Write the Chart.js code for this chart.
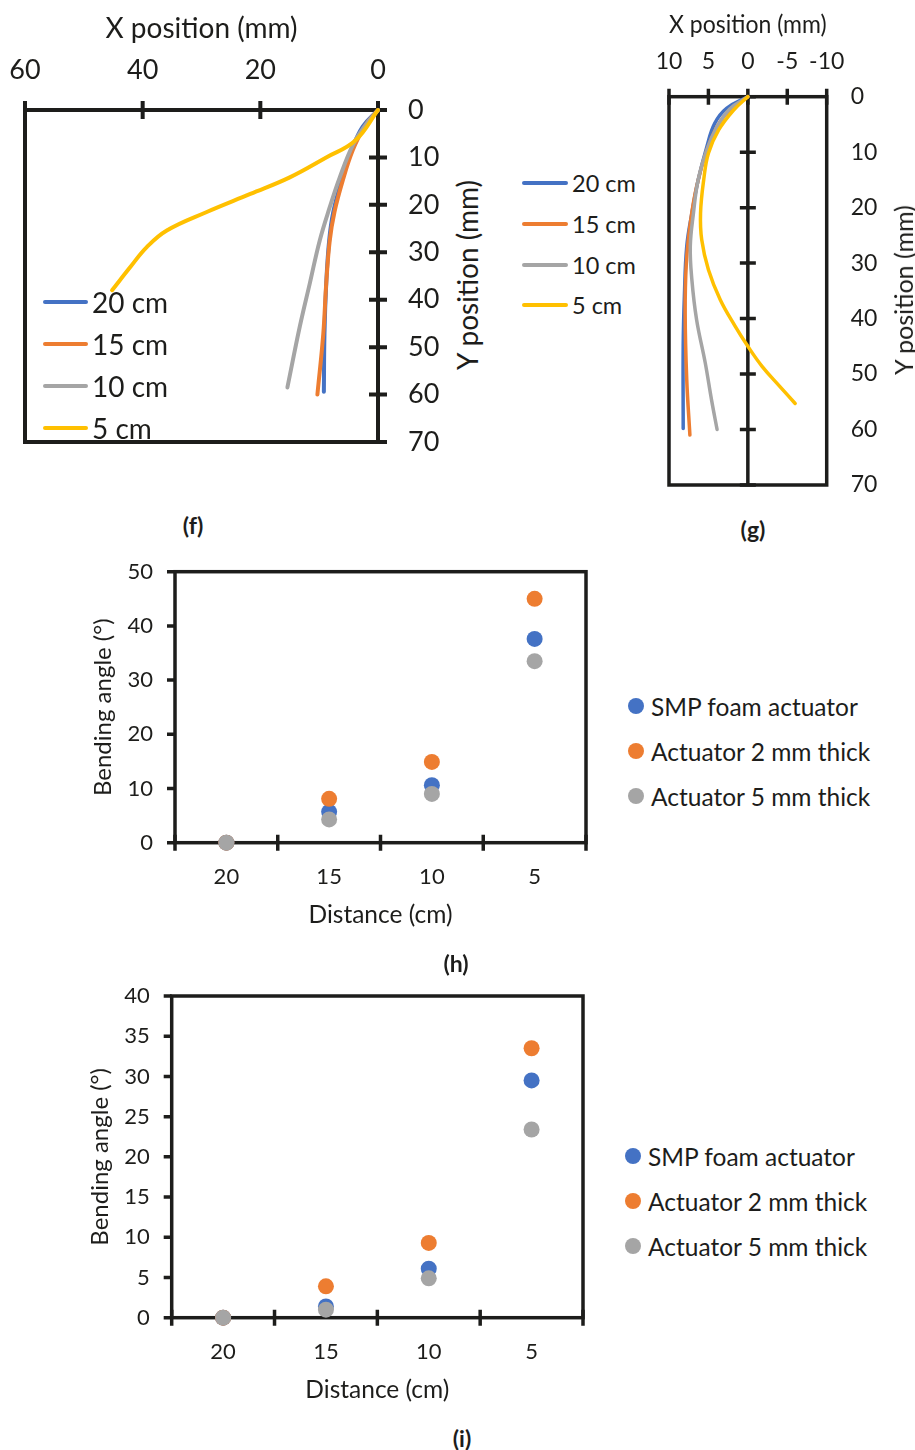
<!DOCTYPE html>
<html>
<head>
<meta charset="utf-8">
<script src="https://cdn.jsdelivr.net/npm/chart.js@4.4.1/dist/chart.umd.min.js"></script>
<style>
    body { margin: 0; background: #fff; }
    #page { position: relative; width: 915px; height: 1450px; font-family: Lato, "Open Sans", sans-serif; color: #1d1d1b; }
    canvas { position: absolute; }
    .vtitle { position: absolute; white-space: nowrap; transform: translate(-50%, -50%) rotate(-90deg); }
    .panel { position: absolute; font-weight: bold; font-size: 23px; transform: translate(-50%, -50%); }
    .legend-item { position: absolute; display: flex; align-items: center; white-space: nowrap; }
    .legend-item span.sw { display: inline-block; }
</style>
</head>
<body>
<div id="page">
    <canvas id="chartF" width="450" height="460" style="left:0;top:0"></canvas>
    <canvas id="chartG" width="275" height="500" style="left:640px;top:0"></canvas>
    <canvas id="chartH" width="520" height="390" style="left:80px;top:545px"></canvas>
    <canvas id="chartI" width="520" height="440" style="left:80px;top:970px"></canvas>

    <div class="vtitle" style="left:467px;top:275px;font-size:28px">Y position (mm)</div>
    <div class="vtitle" style="left:903px;top:290px;font-size:25px">Y position (mm)</div>

    <div class="panel" style="left:193px;top:525px">(f)</div>
    <div class="panel" style="left:753px;top:529px">(g)</div>
    <div class="panel" style="left:456px;top:963px">(h)</div>
    <div class="panel" style="left:462px;top:1438px">(i)</div>
</div>
<script>
// (f) tip path in mm, one x/y pair of arrays per distance
const fX20 = [0, 2.6, 4.5, 6.2, 7.6, 8.3, 8.8, 9.1, 9.2];
const fY20 = [0, 3.5, 8.5, 14.9, 21.5, 27.5, 36.6, 47.2, 59.4];
const fX15 = [0, 2.3, 4.3, 6.0, 7.4, 8.2, 8.8, 9.3, 10.3];
const fY15 = [0, 3.5, 8.5, 14.9, 21.5, 27.5, 36.6, 47.2, 60.0];
const fX10 = [0, 2.0, 4.2, 6.5, 8.2, 9.9, 11.6, 13.3, 15.4];
const fY10 = [0, 3.0, 7.2, 14.2, 20.5, 27.5, 36.6, 45.7, 58.5];
const fX5 = [0, 3.9, 8.8, 15.0, 21.7, 29.1, 35.9, 39.3, 42.1, 45.2];
const fY5 = [0, 6.5, 10.0, 14.2, 17.7, 21.5, 25.4, 28.9, 33.1, 38.0];

// (g)
const gX20 = [0, 2.7, 4.2, 5.2, 6.3, 7.1, 7.75, 8.05, 8.2, 8.2];
const gY20 = [0, 2.1, 4.8, 9.0, 15.0, 21.0, 27.0, 36.0, 45.0, 59.8];
const gX15 = [0, 2.5, 3.9, 5.2, 6.5, 7.3, 7.8, 7.95, 7.75, 7.35];
const gY15 = [0, 2.7, 5.4, 9.6, 16.2, 22.8, 30.0, 39.0, 51.0, 61.0];
const gX10 = [0, 2.3, 3.9, 5.2, 6.3, 6.9, 7.3, 7.1, 6.5, 5.4, 4.6, 3.9];
const gY10 = [0, 2.2, 5.4, 9.6, 15.0, 21.0, 27.0, 33.0, 40.2, 48.0, 54.7, 60.0];
const gX5 = [0, 1.8, 3.7, 5.0, 5.6, 6.0, 5.85, 5.0, 3.5, 1.6, 0, -1.8, -4.1, -6.0];
const gY5 = [0, 2.4, 6.0, 10.2, 15.0, 21.0, 25.8, 31.2, 36.6, 41.4, 45.0, 48.6, 52.3, 55.3];

// (h) and (i) bending angle in degrees
const distances = ['20', '15', '10', '5'];
const hSmp = [0, 5.7, 10.6, 37.6];
const h2mm = [0, 8.1, 14.9, 45.0];
const h5mm = [0, 4.3, 9.0, 33.5];
const iSmp = [0, 1.4, 6.1, 29.5];
const i2mm = [0, 3.9, 9.3, 33.5];
const i5mm = [0, 1.0, 4.9, 23.4];

const curveLabels = ['20 cm', '15 cm', '10 cm', '5 cm'];
const scatterLabels = ['SMP foam actuator', 'Actuator 2 mm thick', 'Actuator 5 mm thick'];
const seriesColors = ['#4472C4', '#ED7D31', '#A5A5A5', '#FFC000'];

const INK = '#1d1d1b';
Chart.defaults.font.family = 'Lato, "Open Sans", sans-serif';
Chart.defaults.color = INK;

function toPoints(xs, ys) {
    return xs.map((x, i) => ({ x: x, y: ys[i] }));
}

// fixed scale size, and no extra room for the end labels
function fixSize(prop, size) {
    return s => {
        s[prop] = size;
        s.paddingLeft = s.paddingRight = s.paddingTop = s.paddingBottom = 0;
    };
}

// frame box + Excel style tick marks, positions come from the scales
const marksPlugin = {
    id: 'marks',
    beforeDatasetsDraw(chart, args, opts) {
        const { ctx, chartArea: a } = chart;
        ctx.save();
        ctx.strokeStyle = INK;
        ctx.lineWidth = opts.width;
        ctx.strokeRect(a.left, a.top, a.right - a.left, a.bottom - a.top);
        opts.sets.forEach(set => {
            const s = chart.scales[set.axis];
            let pix;
            if (set.between) {
                const step = s.getPixelForValue(1) - s.getPixelForValue(0);
                pix = s.ticks.map((t, i) => s.getPixelForValue(i) - step / 2);
                pix.push(s.getPixelForValue(s.ticks.length - 1) + step / 2);
            } else {
                pix = s.ticks.map(t => s.getPixelForValue(t.value));
            }
            let base = set.base;
            if (typeof base === 'number') {
                base = chart.scales[set.axis === 'x' ? 'y' : 'x'].getPixelForValue(base);
            } else {
                base = a[base];
            }
            ctx.beginPath();
            if (set.line) {
                ctx.moveTo(base, a.top);
                ctx.lineTo(base, a.bottom);
            }
            pix.forEach(p => {
                if (s.isHorizontal()) {
                    ctx.moveTo(p, base - set.len[0]);
                    ctx.lineTo(p, base + set.len[1]);
                } else {
                    ctx.moveTo(base - set.len[0], p);
                    ctx.lineTo(base + set.len[1], p);
                }
            });
            ctx.stroke();
        });
        ctx.restore();
    }
};

function noGrid() {
    return { display: false, drawTicks: false };
}

function curveChart(id, xsList, ysList, cfg) {
    return new Chart(document.getElementById(id), {
        type: 'scatter',
        data: {
            datasets: curveLabels.map((label, i) => ({
                label: label,
                data: toPoints(xsList[i], ysList[i]),
                showLine: true,
                borderColor: seriesColors[i],
                backgroundColor: seriesColors[i],
                borderWidth: cfg.lineWidth,
                borderCapStyle: 'round',
                pointRadius: 0,
                tension: 0.4,
                clip: false,
                order: -i
            }))
        },
        options: {
            responsive: false,
            animation: false,
            events: [],
            layout: { padding: cfg.padding },
            plugins: {
                legend: { display: false },
                tooltip: { enabled: false },
                marks: cfg.marks
            },
            scales: {
                x: {
                    type: 'linear', position: 'top', reverse: true,
                    min: cfg.xMin, max: cfg.xMax,
                    ticks: { stepSize: cfg.xStep, padding: cfg.xPad, font: { size: cfg.tickSize }, maxRotation: 0, autoSkip: false },
                    grid: noGrid(), border: { display: false },
                    title: { display: true, text: 'X position (mm)', font: { size: cfg.titleSize }, padding: { top: cfg.titlePad, bottom: 0 } },
                    afterFit: fixSize('height', cfg.xHeight)
                },
                y: {
                    type: 'linear', position: 'right', reverse: true,
                    min: 0, max: 70,
                    ticks: { stepSize: 10, padding: cfg.yPad, font: { size: cfg.tickSize }, autoSkip: false },
                    grid: noGrid(), border: { display: false },
                    afterFit: fixSize('width', cfg.yWidth)
                }
            }
        },
        plugins: [marksPlugin]
    });
}

function angleChart(id, sets, cfg) {
    return new Chart(document.getElementById(id), {
        type: 'line',
        data: {
            labels: distances,
            datasets: scatterLabels.map((label, i) => ({
                label: label,
                data: sets[i],
                showLine: false,
                pointRadius: 8,
                pointHoverRadius: 8,
                pointBorderWidth: 0,
                pointBackgroundColor: seriesColors[i],
                backgroundColor: seriesColors[i],
                borderColor: seriesColors[i],
                clip: false,
                order: -i
            }))
        },
        options: {
            responsive: false,
            animation: false,
            events: [],
            layout: { padding: cfg.padding },
            plugins: {
                legend: { display: false },
                tooltip: { enabled: false },
                marks: {
                    width: 3.5,
                    sets: [
                        { axis: 'y', base: 'left', len: [8, 0] },
                        { axis: 'x', base: 'bottom', len: [8, 8], between: true }
                    ]
                }
            },
            scales: {
                x: {
                    type: 'category', offset: true,
                    ticks: { padding: 21, font: { size: 22 }, maxRotation: 0 },
                    grid: noGrid(), border: { display: false },
                    title: { display: true, text: 'Distance (cm)', font: { size: 24.5 }, padding: { top: 0, bottom: 5 } },
                    afterFit: fixSize('height', 92.3)
                },
                y: {
                    min: 0, max: cfg.yMax,
                    ticks: { stepSize: cfg.yStep, padding: 22, font: { size: 22 }, autoSkip: false },
                    grid: noGrid(), border: { display: false },
                    title: { display: true, text: 'Bending angle (°)', font: { size: 24 }, padding: { top: cfg.yTitlePad, bottom: 0 } },
                    afterFit: fixSize('width', cfg.yWidth)
                }
            }
        },
        plugins: [marksPlugin]
    });
}

// legends as html, built from the chart datasets
function htmlLegend(chart, x, ys, fontSize, swatch) {
    const page = document.getElementById('page');
    chart.data.datasets.forEach((ds, i) => {
        const item = document.createElement('div');
        item.className = 'legend-item';
        item.style.left = x + 'px';
        item.style.top = (ys[i] - 17) + 'px';
        item.style.height = '34px';
        item.style.fontSize = fontSize + 'px';
        const sw = document.createElement('span');
        sw.className = 'sw';
        sw.style.background = ds.borderColor;
        sw.style.width = swatch.w + 'px';
        sw.style.height = swatch.h + 'px';
        sw.style.marginRight = swatch.gap + 'px';
        sw.style.borderRadius = swatch.round ? '50%' : '2px';
        const txt = document.createElement('span');
        txt.textContent = ds.label;
        item.appendChild(sw);
        item.appendChild(txt);
        page.appendChild(item);
    });
}

document.addEventListener('DOMContentLoaded', () => {
    const chartF = curveChart('chartF', [fX20, fX15, fX10, fX5], [fY20, fY15, fY10, fY5], {
        lineWidth: 4, tickSize: 27, titleSize: 28,
        xMin: 0, xMax: 60, xStep: 20,
        xPad: 24, titlePad: 12, xHeight: 110,
        yPad: 30, yWidth: 72,
        padding: { left: 25, right: 0, top: 0, bottom: 18 },
        marks: {
            width: 4,
            sets: [
                { axis: 'x', base: 'top', len: [9, 9] },
                { axis: 'y', base: 'right', len: [9, 9] }
            ]
        }
    });

    const chartG = curveChart('chartG', [gX20, gX15, gX10, gX5], [gY20, gY15, gY10, gY5], {
        lineWidth: 3.5, tickSize: 23, titleSize: 25,
        xMin: -10, xMax: 10, xStep: 5,
        xPad: 21, titlePad: 10, xHeight: 96.7,
        yPad: 24, yWidth: 88.3,
        padding: { left: 29, right: 0, top: 0, bottom: 15 },
        marks: {
            width: 3.5,
            sets: [
                { axis: 'x', base: 'top', len: [8, 8] },
                { axis: 'y', base: 0, len: [8, 8], line: true }
            ]
        }
    });

    const chartH = angleChart('chartH', [hSmp, h2mm, h5mm], {
        yMax: 50, yStep: 10, yWidth: 95, yTitlePad: 8.6,
        padding: { left: 0, right: 14, top: 26.7, bottom: 0 }
    });

    const chartI = angleChart('chartI', [iSmp, i2mm, i5mm], {
        yMax: 40, yStep: 5, yWidth: 91.7, yTitlePad: 5.6,
        padding: { left: 0, right: 17, top: 26, bottom: 0 }
    });

    htmlLegend(chartF, 43, [302, 344, 386, 428], 28, { w: 45, h: 4, gap: 4 });
    htmlLegend(chartG, 522, [183, 224, 265, 305], 23.5, { w: 46, h: 4, gap: 4 });
    htmlLegend(chartH, 628, [706, 751, 796], 24.5, { w: 16, h: 16, gap: 7, round: true });
    htmlLegend(chartI, 625, [1156, 1201, 1246], 24.5, { w: 16, h: 16, gap: 7, round: true });
});
</script>
</body>
</html>
